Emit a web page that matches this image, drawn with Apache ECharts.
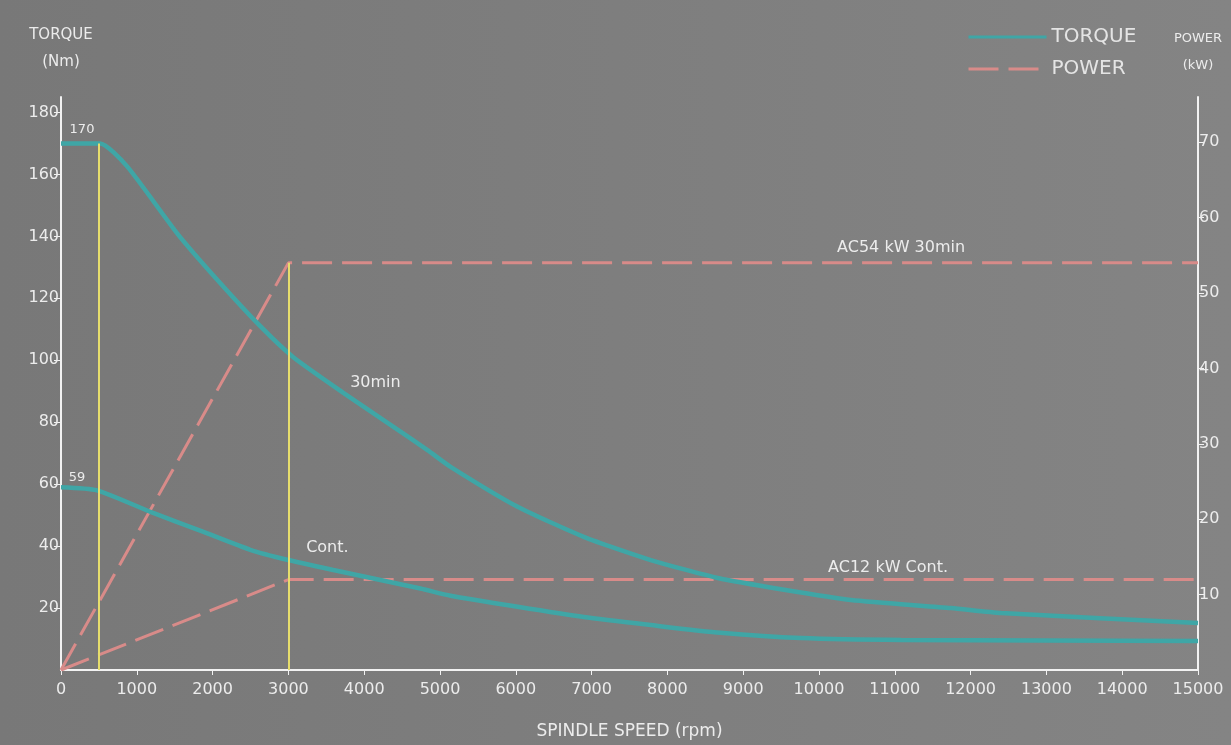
<!DOCTYPE html>
<html><head><meta charset="utf-8">
<script src="https://cdn.jsdelivr.net/npm/echarts@6/dist/echarts.min.js"></script>
<style>html,body{margin:0;padding:0;background:#7b7b7b}#c{width:1231px;height:745px}</style>
</head><body><div id="c"></div>
<script>
// ---- data ----
const rpm30 = [0, 515, 872, 1532, 2061, 2629, 3065, 3725, 4386, 4835, 5139, 6024, 6896, 7781, 8666, 9538, 10423, 11744, 12404, 15000];
const torque30 = [170, 170, 162.6, 141, 126, 111, 101, 89.5, 78.5, 71, 65.6, 52.7, 43, 35.5, 29.7, 25.9, 22.6, 20, 18.4, 15.2];
const rpmCont = [0, 475, 1215, 1836, 2497, 2999, 3593, 4742, 5139, 6024, 6896, 7781, 8700, 9762, 11083, 15000];
const torqueCont = [59, 58, 50.7, 45, 38.8, 35.5, 32.3, 26.3, 24.0, 20.4, 17.1, 14.5, 12, 10.3, 9.7, 9.4];
const rpmPower = [0, 3000, 15000];
const power30 = [0, 54, 54];
const powerCont = [0, 12, 12];
const torqueTicks = [20, 40, 60, 80, 100, 120, 140, 160, 180];
const powerTicks = [10, 20, 30, 40, 50, 60, 70];
const markerRpm = [500, 3000];
const markerTop = [170, 54];
const labels30 = [['170', 277, 174.5], ['30min', 4148, 92.8]];
const labelsCont = [['59', 211, 62], ['Cont.', 3514, 39.4]];
const labelsP30 = [['AC54 kW 30min', 11083, 56]];
const labelsPCont = [['AC12 kW Cont.', 10911, 13.6]];

const TEAL = '#3fa6a6', PINK = '#d88b89', YEL = '#e6dd6c', TXT = '#ececec';
const FONT = 'DejaVu Sans';

const pair = (xs, ys) => xs.map((x, i) => [x, ys[i]]);
const mp = (arr) => ({
  symbol: 'circle', symbolSize: 0, silent: true,
  label: { show: true, position: 'inside', color: TXT, fontFamily: FONT, fontSize: 16, formatter: p => p.name },
  data: arr.map(a => ({
    name: a[0], coord: [a[1], a[2]],
    label: { fontSize: isNaN(Number(a[0])) ? 16 : 13 }
  }))
});
const ml = (i) => ({
  symbol: ['none', 'none'], silent: true, label: { show: false },
  lineStyle: { color: YEL, width: 2, type: 'solid' },
  data: [[{ coord: [markerRpm[i], 0] }, { coord: [markerRpm[i], markerTop[i]] }]]
});

const chart = echarts.init(document.getElementById('c'), null, { renderer: 'canvas' });
chart.setOption({
  animation: false,
  backgroundColor: { type: 'linear', x: 0, y: 0, x2: 1, y2: 0, colorStops: [{ offset: 0, color: '#787878' }, { offset: 1, color: '#848484' }] },
  grid: { left: 61, right: 33, top: 97, bottom: 75, containLabel: false, outerBoundsMode: 'none' },
  legend: {
    orient: 'vertical', left: 962, top: 22, itemGap: 12, itemWidth: 78, itemHeight: 14,
    itemStyle: { opacity: 0 },
    lineStyle: { width: 3 },
    textStyle: { color: '#e4e4e4', fontFamily: FONT, fontSize: 20 },
    data: ['TORQUE', 'POWER']
  },
  xAxis: {
    type: 'value', min: 0, max: 15000, interval: 1000,
    name: 'SPINDLE SPEED (rpm)', nameLocation: 'middle', nameGap: 53,
    nameTextStyle: { color: TXT, fontFamily: FONT, fontSize: 17 },
    axisLine: { lineStyle: { color: '#f2f2f2', width: 2 } },
    axisTick: { show: true, length: 5, lineStyle: { color: '#f2f2f2' } },
    axisLabel: { color: TXT, fontFamily: FONT, fontSize: 16, margin: 12, formatter: v => String(v) },
    splitLine: { show: false }
  },
  yAxis: [{
    type: 'value', min: 0, max: 185, position: 'left',
    name: 'TORQUE\n(Nm)', nameLocation: 'end', nameGap: 21,
    nameTextStyle: { color: TXT, fontFamily: FONT, fontSize: 15, lineHeight: 27, align: 'center' },
    axisLine: { show: true, lineStyle: { color: '#f2f2f2', width: 2 } },
    axisTick: { show: true, length: 7, customValues: torqueTicks, lineStyle: { color: '#f2f2f2' } },
    axisLabel: { color: TXT, fontFamily: FONT, fontSize: 16, margin: 2, customValues: torqueTicks },
    splitLine: { show: false }
  }, {
    type: 'value', min: 0, max: 76, position: 'right',
    name: 'POWER\n(kW)', nameLocation: 'end', nameGap: 18,
    nameTextStyle: { color: TXT, fontFamily: FONT, fontSize: 13, lineHeight: 27, align: 'center' },
    axisLine: { show: true, lineStyle: { color: '#f2f2f2', width: 2 } },
    axisTick: { show: true, length: 6, customValues: powerTicks, lineStyle: { color: '#f2f2f2' } },
    axisLabel: { color: TXT, fontFamily: FONT, fontSize: 16, margin: 1, customValues: powerTicks },
    splitLine: { show: false }
  }],
  series: [
    { name: 'POWER', type: 'line', yAxisIndex: 1, symbol: 'none', data: pair(rpmPower, power30),
      lineStyle: { color: PINK, width: 3, type: [30, 10] }, itemStyle: { color: PINK },
      markLine: ml(1), markPoint: mp(labelsP30) },
    { name: 'POWER', type: 'line', yAxisIndex: 1, symbol: 'none', data: pair(rpmPower, powerCont),
      lineStyle: { color: PINK, width: 3, type: [30, 10] }, itemStyle: { color: PINK },
      markPoint: mp(labelsPCont) },
    { name: 'TORQUE', type: 'line', yAxisIndex: 0, symbol: 'none', smooth: 0.2,
      data: pair(rpm30, torque30), lineStyle: { color: TEAL, width: 4.5 }, itemStyle: { color: TEAL },
      markLine: ml(0), markPoint: mp(labels30) },
    { name: 'TORQUE', type: 'line', yAxisIndex: 0, symbol: 'none', smooth: 0.2,
      data: pair(rpmCont, torqueCont), lineStyle: { color: TEAL, width: 4.5 }, itemStyle: { color: TEAL },
      markPoint: mp(labelsCont) }
  ]
});
</script></body></html>
